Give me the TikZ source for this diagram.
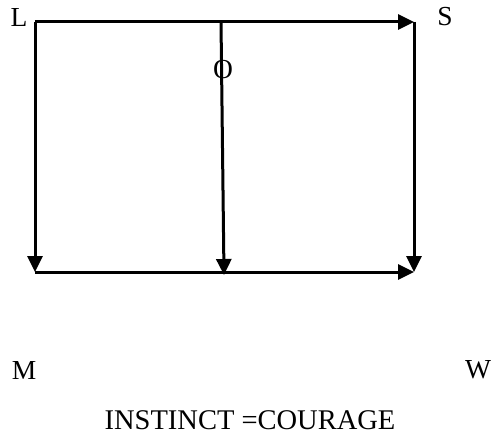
\documentclass[tikz,border=0pt]{standalone}
\usepackage{fontspec}
\setmainfont{Liberation Serif}
\usetikzlibrary{arrows.meta}
\begin{document}
\begin{tikzpicture}[x=1pt,y=-1pt,
  conn/.style={line width=3pt,-{Triangle[length=16pt,width=15pt]}},
  lbl/.style={font=\fontsize{27.5}{31}\selectfont,inner sep=0pt},
  captiontext/.style={font=\fontsize{28.5}{32}\selectfont,inner sep=0pt}]
\useasboundingbox[fill=white] (0,0) rectangle (494,436);
\coordinate (tl) at (35,22);
\coordinate (tr) at (414,22);
\coordinate (bl) at (35,272);
\coordinate (br) at (414,272);
\coordinate (tm) at (221,22);
\coordinate (bm) at (224,275);
\draw[line width=3pt] (tl) -- (tm);
\draw[conn] (tm) -- (tr);
\draw[conn] (tl) -- (bl);
\draw[conn] (tr) -- (br);
\draw[conn] (bl) -- (br);
\draw[conn] (tm) -- (bm);
\node[lbl] (L) at (19,17) {L};
\node[lbl] (S) at (445,17) {S};
\node[lbl] (O) at (223,70) {O};
\node[lbl] (M) at (24,370) {M};
\node[lbl] (W) at (478,370) {W};
\node[captiontext] (I) at (250,420) {INSTINCT =COURAGE};
\end{tikzpicture}
\end{document}
